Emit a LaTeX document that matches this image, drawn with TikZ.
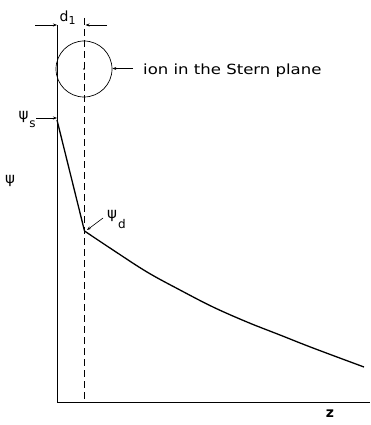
\documentclass[tikz,border=0pt]{standalone}
\usepackage{fontspec}
\setmainfont{DejaVu Sans}
\usetikzlibrary{arrows.meta}
\begin{document}
\begin{tikzpicture}[x=1pt,y=-1pt,
  thin line/.style={line width=0.7pt,black},
  thick curve/.style={line width=1.3pt,black,line join=round},
  ptr/.style={line width=0.6pt,-{Stealth[length=4pt,width=3pt]}},
  lbl/.style={inner sep=0pt,font=\fontsize{15}{17}\selectfont},
  sub/.style={inner sep=0pt,font=\fontsize{12}{14}\selectfont}]
\useasboundingbox (0,0) rectangle (370,425);
% axes
\coordinate (top) at (57,25);
\coordinate (origin) at (57,402);
\coordinate (xend) at (370,402);
\draw[thin line] (top) -- (origin) -- (xend);
% dashed plane
\coordinate (dtop) at (84,18);
\coordinate (dbot) at (84,402);
\draw[thin line,dash pattern=on 7pt off 4pt] (dtop) -- (dbot);
% ion
\node[draw,circle,line width=0.7pt,minimum size=56pt,inner sep=0pt] (ion) at (84,69) {};
\fill (ion.center) circle (0.9pt);
\node[inner sep=0pt,anchor=base west,font=\fontsize{14}{16}\selectfont] (ionlbl) at (143,75) {\scalebox{1.18}[1]{ion in the Stern plane}};
\coordinate (ia) at (133,68.5);
\draw[ptr] (ia) -- (ion.east|-ia);
% d1
\node[inner sep=0pt,anchor=base,font=\fontsize{14}{16}\selectfont] (d1) at (64,22) {d};
\node[inner sep=0pt,anchor=base,font=\fontsize{11}{13}\selectfont] (d1s) at (72,25) {1};
\coordinate (la) at (35,25);
\coordinate (ra) at (107,25);
\draw[ptr] (la) -- (top);
\coordinate (rb) at (85.5,25);
\draw[ptr] (ra) -- (rb);
% potential profile
\coordinate (ps) at (57,120);
\coordinate (pd) at (84.5,231);
\draw[thick curve] (ps) -- (pd) plot[smooth,tension=0.6] coordinates {(84.5,231) (113,250) (147,272) (180,290) (213,307) (247,322) (280,335) (313,348) (364,367)};
% labels
\node[lbl] (psis) at (23.5,116.5) {ψ};
\node[sub] (psiss) at (32.5,124.5) {s};
\coordinate (pa) at (36,118);
\draw[ptr] (pa) -- (ps|-pa);
\node[lbl] (psid) at (112,215.5) {ψ};
\node[sub] (psids) at (122,224.5) {d};
\coordinate (pb) at (103,218);
\coordinate (pc) at (87,230);
\draw[ptr] (pb) -- (pc);
\node[lbl] (psi) at (10,180.5) {ψ};
\node[inner sep=0pt,font=\bfseries\fontsize{14}{16}\selectfont] (z) at (330,414) {z};
\end{tikzpicture}
\end{document}
